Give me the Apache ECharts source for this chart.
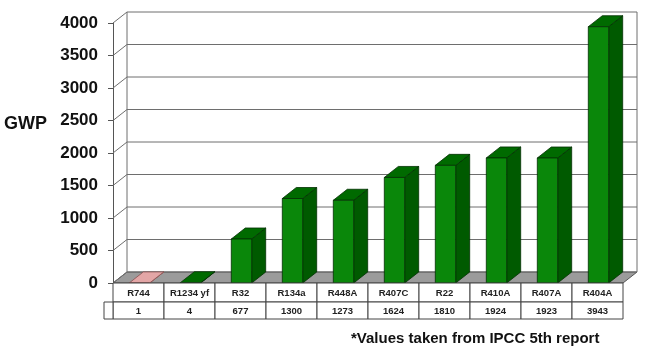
<!DOCTYPE html>
<html>
<head>
<meta charset="utf-8">
<script src="https://cdn.jsdelivr.net/npm/echarts@6/dist/echarts.min.js"></script>
<style>
  html, body { margin: 0; padding: 0; background: #fff; }
  #chart { width: 650px; height: 354px; }
</style>
</head>
<body>
<div id="chart"></div>
<script>
// refrigerants and their GWP (IPCC AR5)
const categories = ['R744', 'R1234 yf', 'R32', 'R134a', 'R448A', 'R407C', 'R22', 'R410A', 'R407A', 'R404A'];
const gwpValues = [1, 4, 677, 1300, 1273, 1624, 1810, 1924, 1923, 3943];
const yTicks = [0, 500, 1000, 1500, 2000, 2500, 3000, 3500, 4000];

// 3D depth offset of the walls / bars
const DX = 14;
const DY = -11;
const FONT = 'Liberation Sans, Arial, Helvetica, sans-serif';

const chart = echarts.init(document.getElementById('chart'));

// back wall, left wall and floor
const renderWalls = (params, api) => {
  const v = api.value(0);
  const band = api.size([1, 0])[0];
  const p = api.coord([0, v]);
  const left = p[0] - band / 2;
  const right = api.coord([categories.length - 1, v])[0] + band / 2;
  const y = p[1];
  const line = { stroke: '#6e6e6e', lineWidth: 1 };
  const children = [
    { type: 'line', shape: { x1: left, y1: y, x2: left + DX, y2: y + DY }, style: line },
    { type: 'line', shape: { x1: left + DX, y1: y + DY, x2: right + DX, y2: y + DY }, style: line }
  ];
  if (params.dataIndex === 0) {
    const yTop = api.coord([0, yTicks[yTicks.length - 1]])[1];
    children.unshift({
      type: 'polygon',
      shape: { points: [[left, y], [right, y], [right + DX, y + DY], [left + DX, y + DY]] },
      style: { fill: '#9b9b9b', stroke: '#555', lineWidth: 1 }
    });
    children.push(
      { type: 'line', shape: { x1: left + DX, y1: yTop + DY, x2: left + DX, y2: y + DY }, style: line },
      { type: 'line', shape: { x1: right + DX, y1: yTop + DY, x2: right + DX, y2: y + DY }, style: line }
    );
  }
  return { type: 'group', children };
};

// 3D bars
const renderBar = (params, api) => {
  const i = api.value(0);
  const v = api.value(1);
  const top = api.coord([i, v]);
  const base = api.coord([i, 0]);
  const band = api.size([1, 0])[0];
  const w = band * 0.4;
  const x0 = top[0] - w / 2 + 1;
  const x1 = x0 + w;
  const pink = i === 0;
  const front = pink ? '#d99b9b' : '#0a870a';
  const side = pink ? '#b97878' : '#005a00';
  const cap = pink ? '#e3a6a6' : '#006a00';
  const edge = pink ? '#8a5050' : '#023002';
  return {
    type: 'group',
    children: [
      {
        type: 'polygon',
        shape: { points: [[x1, top[1]], [x1 + DX, top[1] + DY], [x1 + DX, base[1] + DY], [x1, base[1]]] },
        style: { fill: side, stroke: edge, lineWidth: 0.8 }
      },
      {
        type: 'polygon',
        shape: { points: [[x0, top[1]], [x0 + DX, top[1] + DY], [x1 + DX, top[1] + DY], [x1, top[1]]] },
        style: { fill: cap, stroke: edge, lineWidth: 0.8 }
      },
      {
        type: 'rect',
        shape: { x: x0, y: top[1], width: w, height: base[1] - top[1] },
        style: { fill: front, stroke: edge, lineWidth: 0.8 }
      }
    ]
  };
};

// data table under the chart
const renderTable = (params, api) => {
  const i = api.value(0);
  const band = api.size([1, 0])[0];
  const p = api.coord([i, 0]);
  const left = p[0] - band / 2;
  const y0 = p[1];
  const h1 = 19;
  const h2 = 17;
  const cell = { fill: '#fff', stroke: '#444', lineWidth: 1 };
  const txt = { font: 'bold 9.5px ' + FONT, fill: '#222', align: 'center', verticalAlign: 'middle' };
  const children = [
    { type: 'rect', shape: { x: left, y: y0, width: band, height: h1 }, style: cell },
    { type: 'rect', shape: { x: left, y: y0 + h1, width: band, height: h2 }, style: cell },
    { type: 'text', style: Object.assign({ text: categories[i], x: p[0], y: y0 + h1 / 2 + 0.5 }, txt) },
    { type: 'text', style: Object.assign({ text: String(gwpValues[i]), x: p[0], y: y0 + h1 + h2 / 2 + 0.5 }, txt) }
  ];
  if (i === 0) {
    children.push({ type: 'rect', shape: { x: left - 9, y: y0 + h1, width: 9, height: h2 }, style: cell });
  }
  return { type: 'group', children };
};

chart.setOption({
  animation: false,
  backgroundColor: '#fff',
  grid: { left: 113, right: 27, top: 23, bottom: 71 },
  xAxis: {
    type: 'category',
    data: categories,
    axisLine: { show: false },
    axisTick: { show: false },
    axisLabel: { show: false }
  },
  yAxis: {
    type: 'value',
    min: 0,
    max: 4000,
    interval: 500,
    axisLine: { show: true, lineStyle: { color: '#555', width: 1 } },
    axisTick: { show: true, length: 5, lineStyle: { color: '#555' } },
    axisLabel: {
      margin: 15,
      fontSize: 17,
      fontWeight: 'bold',
      color: '#111',
      fontFamily: FONT,
      formatter: v => String(v)
    },
    splitLine: { show: false }
  },
  graphic: [
    { type: 'text', left: 4, top: 115, style: { text: 'GWP', font: 'bold 18px ' + FONT, fill: '#111' } },
    { type: 'text', left: 351, top: 331, style: { text: '*Values taken from IPCC 5th report', font: 'bold 15px ' + FONT, fill: '#111' } }
  ],
  series: [
    {
      type: 'custom',
      clip: false,
      z: 1,
      renderItem: renderWalls,
      data: yTicks.map(v => [v])
    },
    {
      type: 'custom',
      clip: false,
      z: 2,
      renderItem: renderBar,
      data: gwpValues.map((v, i) => [i, v])
    },
    {
      type: 'custom',
      clip: false,
      z: 3,
      renderItem: renderTable,
      data: categories.map((c, i) => [i])
    }
  ]
});
</script>
</body>
</html>
